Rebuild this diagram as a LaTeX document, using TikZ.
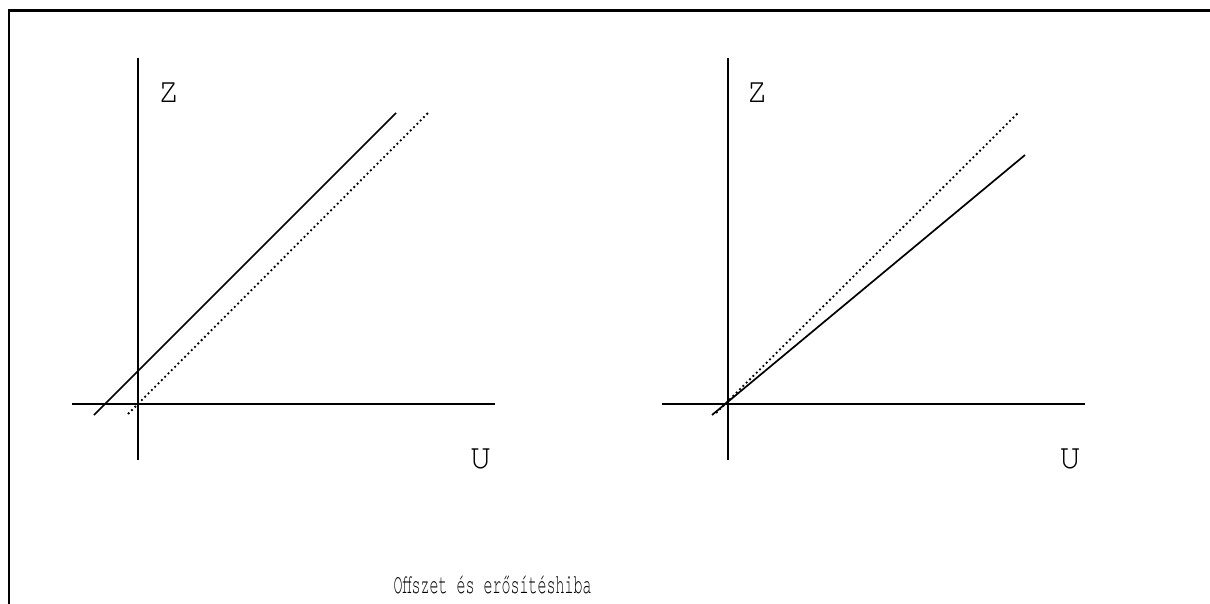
\documentclass[tikz,border=0pt]{standalone}
\usepackage{fontspec}
\setmonofont{texgyrecursor-regular.otf}
\tikzset{
  axis/.style={line width=1.7pt},
  curve/.style={line width=1.7pt},
  ideal/.style={line width=1.8pt,dash pattern=on 1.8pt off 2.9pt},
  label/.style={font=\ttfamily\fontsize{35}{35}\selectfont,inner sep=0pt}
}
\begin{document}
\begin{tikzpicture}[x=1pt,y=-1pt]
  \useasboundingbox (0,0) rectangle (1210,604);
  \draw[line width=2.8pt] (9,604) -- (9,10.5) -- (1210,10.5);

  % offset error
  \coordinate (lzt) at (138,58);
  \coordinate (lzb) at (138,460);
  \coordinate (lul) at (72,404);
  \coordinate (lur) at (495,404);
  \draw[axis] (lzt) -- (lzb);
  \draw[axis] (lul) -- (lur);
  \coordinate (la) at (94,415);
  \coordinate (lb) at (396,113);
  \coordinate (lc) at (128,414);
  \coordinate (ld) at (428,113);
  \draw[curve] (la) -- (lb);
  \draw[ideal] (lc) -- (ld);
  \node[label] (lz) at (168.5,93) {Z};
  \node[label] (lu) at (480.5,458.5) {U};

  % gain error
  \coordinate (rzt) at (728,58);
  \coordinate (rzb) at (728,460);
  \coordinate (rul) at (662,404);
  \coordinate (rur) at (1085,404);
  \draw[axis] (rzt) -- (rzb);
  \draw[axis] (rul) -- (rur);
  \coordinate (ra) at (712,415);
  \coordinate (rb) at (1025,155);
  \coordinate (rc) at (716,413);
  \coordinate (rd) at (1018,113);
  \draw[curve] (ra) -- (rb);
  \draw[ideal] (rc) -- (rd);
  \node[label] (rz) at (757,93) {Z};
  \node[label] (ru) at (1070,458.5) {U};

  \node[font=\ttfamily\fontsize{15}{15}\selectfont,inner sep=0pt] (cim) at (492.5,585)
    {\scalebox{1}[1.85]{Offszet és erősítéshiba}};
\end{tikzpicture}
\end{document}
